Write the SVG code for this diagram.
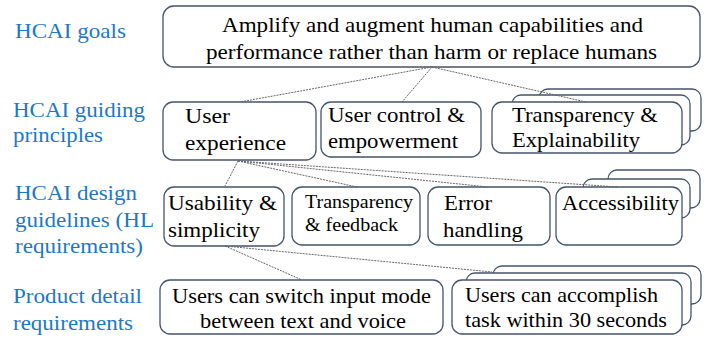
<svg xmlns="http://www.w3.org/2000/svg" width="709" height="339" viewBox="0 0 709 339">
<style>
.bx{fill:#fff;stroke:#44546A;stroke-width:1.3}
text{font-family:'Liberation Serif','Times New Roman','DejaVu Serif',serif;font-size:21.5px;fill:#000}
.s{font-size:18px}
.lb{fill:#1E78C8}
.c{stroke:#666;stroke-width:1;stroke-dasharray:2 1;fill:none}
</style>
<rect width="709" height="339" fill="#fff"/>
<g id="labels">
<text class="lb" x="15" y="38" textLength="111" lengthAdjust="spacingAndGlyphs">HCAI goals</text>
<text class="lb" x="13" y="117" textLength="132" lengthAdjust="spacingAndGlyphs">HCAI guiding</text>
<text class="lb" x="13" y="142" textLength="90" lengthAdjust="spacingAndGlyphs">principles</text>
<text class="lb" x="15" y="200" textLength="122" lengthAdjust="spacingAndGlyphs">HCAI design</text>
<text class="lb" x="15" y="227" textLength="139" lengthAdjust="spacingAndGlyphs">guidelines (HL</text>
<text class="lb" x="15" y="253" textLength="128" lengthAdjust="spacingAndGlyphs">requirements)</text>
<text class="lb" x="13" y="303" textLength="129" lengthAdjust="spacingAndGlyphs">Product detail</text>
<text class="lb" x="13" y="330" textLength="120" lengthAdjust="spacingAndGlyphs">requirements</text>
</g>
<g id="goal">
<rect class="bx" x="163" y="6" width="537" height="61" rx="11"/>
<text x="222" y="32" textLength="421" lengthAdjust="spacingAndGlyphs">Amplify and augment human capabilities and</text>
<text x="206" y="59" textLength="451" lengthAdjust="spacingAndGlyphs">performance rather than harm or replace humans</text>
</g>
<g id="ux">
<rect class="bx" x="163" y="102" width="153" height="58" rx="10"/>
<text x="185" y="123" textLength="45" lengthAdjust="spacingAndGlyphs">User</text>
<text x="185" y="150" textLength="101" lengthAdjust="spacingAndGlyphs">experience</text>
</g>
<g id="control">
<rect class="bx" x="321" y="102" width="160" height="55" rx="10"/>
<text x="328" y="122" textLength="137" lengthAdjust="spacingAndGlyphs">User control &amp;</text>
<text x="328" y="148" textLength="130" lengthAdjust="spacingAndGlyphs">empowerment</text>
</g>
<g id="transparency">
<rect class="bx" x="539" y="89" width="162" height="42" rx="9"/>
<rect class="bx" x="512" y="95" width="178" height="50" rx="9"/>
<rect class="bx" x="492" y="102" width="190" height="51" rx="10"/>
<text x="512" y="122" textLength="146" lengthAdjust="spacingAndGlyphs">Transparency &amp;</text>
<text x="512" y="147" textLength="128" lengthAdjust="spacingAndGlyphs">Explainability</text>
</g>
<g id="usability">
<rect class="bx" x="164" y="187" width="120" height="59" rx="10"/>
<text x="168" y="210" textLength="109" lengthAdjust="spacingAndGlyphs">Usability &amp;</text>
<text x="168" y="237" textLength="92" lengthAdjust="spacingAndGlyphs">simplicity</text>
</g>
<g id="feedback">
<rect class="bx" x="292" y="187" width="128" height="58" rx="10"/>
<text class="s" x="305" y="208" textLength="108" lengthAdjust="spacingAndGlyphs">Transparency</text>
<text class="s" x="305" y="231" textLength="93" lengthAdjust="spacingAndGlyphs">&amp; feedback</text>
</g>
<g id="error">
<rect class="bx" x="428" y="187" width="122" height="58" rx="10"/>
<text x="444" y="210" textLength="48" lengthAdjust="spacingAndGlyphs">Error</text>
<text x="443" y="237" textLength="80" lengthAdjust="spacingAndGlyphs">handling</text>
</g>
<g id="accessibility">
<rect class="bx" x="608" y="170" width="92" height="38" rx="9"/>
<rect class="bx" x="583" y="179" width="107" height="39" rx="9"/>
<rect class="bx" x="556" y="187" width="126" height="58" rx="10"/>
<text x="562" y="210" textLength="117" lengthAdjust="spacingAndGlyphs">Accessibility</text>
</g>
<g id="switch">
<rect class="bx" x="160" y="280" width="283" height="54" rx="10"/>
<text x="172" y="303" textLength="259" lengthAdjust="spacingAndGlyphs">Users can switch input mode</text>
<text x="200" y="328" textLength="206" lengthAdjust="spacingAndGlyphs">between text and voice</text>
</g>
<g id="accomplish">
<rect class="bx" x="493" y="266" width="208" height="38" rx="9"/>
<rect class="bx" x="466" y="273" width="225" height="52" rx="9"/>
<rect class="bx" x="452" y="280" width="230" height="54" rx="10"/>
<text x="465" y="302" textLength="193" lengthAdjust="spacingAndGlyphs">Users can accomplish</text>
<text x="465" y="327" textLength="202" lengthAdjust="spacingAndGlyphs">task within 30 seconds</text>
</g>
<g id="connectors">
<line class="c" x1="432" y1="67" x2="240" y2="102"/>
<line class="c" x1="432" y1="67" x2="402" y2="102"/>
<line class="c" x1="432" y1="67" x2="586" y2="102"/>
<line class="c" x1="238" y1="161" x2="225" y2="186"/>
<line class="c" x1="238" y1="161" x2="357" y2="187"/>
<line class="c" x1="238" y1="161" x2="488" y2="187"/>
<line class="c" x1="238" y1="161" x2="618" y2="187"/>
<line class="c" x1="225" y1="246" x2="302" y2="280"/>
<line class="c" x1="225" y1="246" x2="492" y2="272"/>
</g>
</svg>
